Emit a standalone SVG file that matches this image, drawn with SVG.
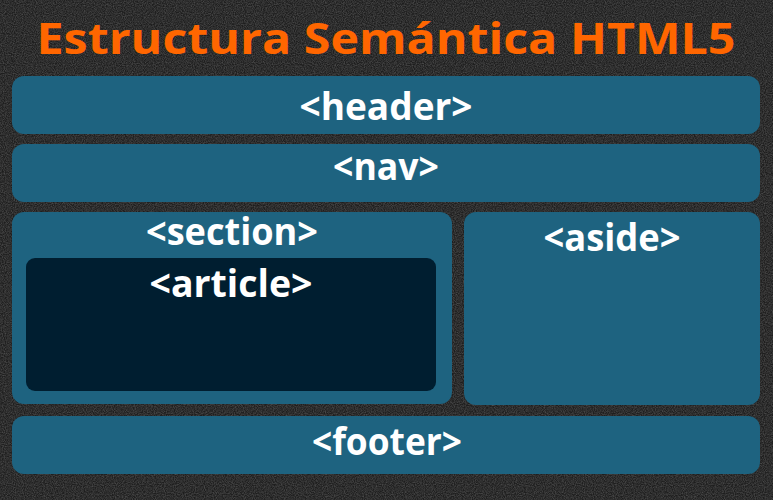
<svg xmlns="http://www.w3.org/2000/svg" width="773" height="500" viewBox="0 0 773 500">
  <defs>
    <filter id="noise" x="0" y="0" width="100%" height="100%">
      <feTurbulence type="fractalNoise" baseFrequency="0.9" numOctaves="2" seed="3" result="t"/>
      <feColorMatrix in="t" type="matrix" values="0 0 0 0 0.16  0 0 0 0 0.16  0 0 0 0 0.16  0 0 0 0.9 -0.25"/>
      <feComposite in2="SourceGraphic" operator="in"/>
    </filter>
    <style>
      .box { fill: #1e6380; }
      .inner { fill: #001e30; }
      .lbl { font-family: "Open Sans", "Liberation Sans", sans-serif; font-weight: 700; font-size: 37px; fill: #ffffff; text-anchor: middle; }
      .title { font-family: "Open Sans", "Liberation Sans", sans-serif; font-weight: 700; font-size: 43px; fill: #ff6600; text-anchor: middle; }
    </style>
  </defs>
  <rect x="0" y="0" width="773" height="500" fill="#1e1e1e"/>
  <rect x="0" y="0" width="773" height="500" fill="#ffffff" filter="url(#noise)"/>

  <text id="title" class="title" x="386" y="54" textLength="699" lengthAdjust="spacingAndGlyphs">Estructura Semántica HTML5</text>

  <g id="header">
    <rect class="box" x="12" y="76" width="748" height="58" rx="12"/>
    <text class="lbl" x="386" y="120" textLength="173" lengthAdjust="spacingAndGlyphs">&lt;header&gt;</text>
  </g>
  <g id="nav">
    <rect class="box" x="12" y="144" width="748" height="58" rx="12"/>
    <text class="lbl" x="386" y="180" textLength="106" lengthAdjust="spacingAndGlyphs">&lt;nav&gt;</text>
  </g>
  <g id="section">
    <rect class="box" x="12" y="212" width="440" height="192" rx="12"/>
    <text class="lbl" x="232" y="245" textLength="172" lengthAdjust="spacingAndGlyphs">&lt;section&gt;</text>
  </g>
  <g id="article">
    <rect class="inner" x="26" y="258" width="410" height="133" rx="9"/>
    <text class="lbl" x="231" y="297" textLength="163" lengthAdjust="spacingAndGlyphs">&lt;article&gt;</text>
  </g>
  <g id="aside">
    <rect class="box" x="464" y="212" width="296" height="193" rx="12"/>
    <text class="lbl" x="612" y="251" textLength="137" lengthAdjust="spacingAndGlyphs">&lt;aside&gt;</text>
  </g>
  <g id="footer">
    <rect class="box" x="12" y="416" width="748" height="58" rx="12"/>
    <text class="lbl" x="387" y="455" textLength="150" lengthAdjust="spacingAndGlyphs">&lt;footer&gt;</text>
  </g>
  <g id="connectors"/>
</svg>
